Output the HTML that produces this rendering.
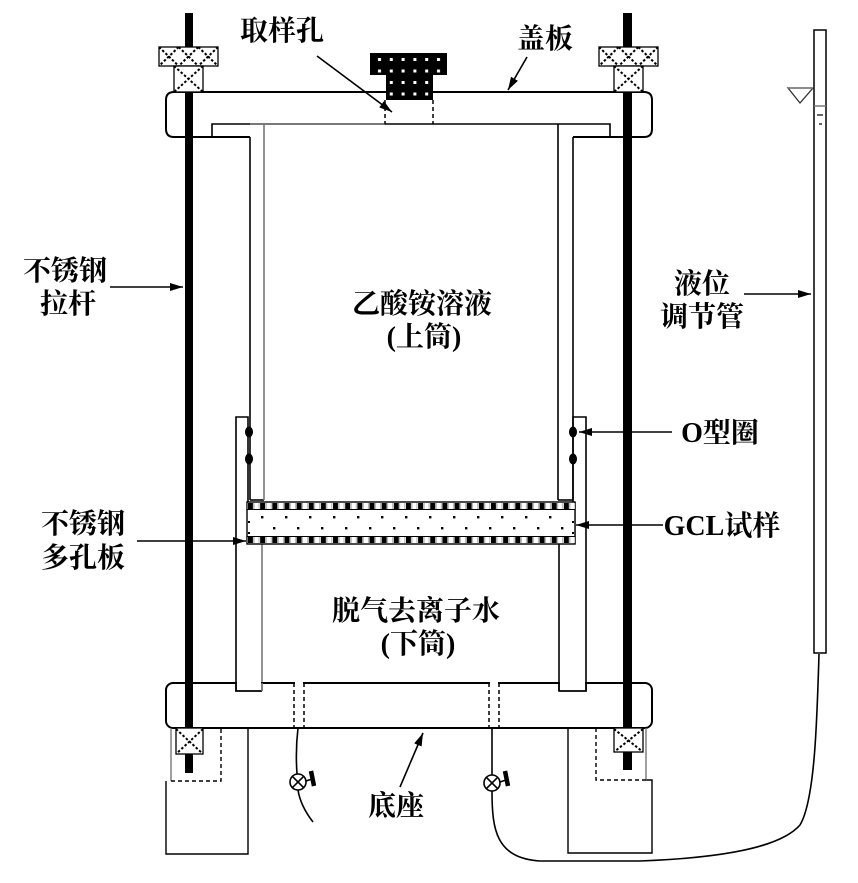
<!DOCTYPE html>
<html><head><meta charset="utf-8"><style>
html,body{margin:0;padding:0;background:#fff;}
svg{display:block;}
text{font-family:"Liberation Serif","Noto Serif CJK SC",serif;font-weight:bold;font-size:28px;fill:#000;}
</style></head><body>
<svg width="858" height="883" viewBox="0 0 858 883" xmlns="http://www.w3.org/2000/svg">
<defs>
<marker id="ah" markerWidth="14" markerHeight="10" refX="13" refY="5" orient="auto" markerUnits="userSpaceOnUse">
<path d="M0,1 L13,5 L0,9 Z" fill="#000"/>
</marker>
<pattern id="cap" x="374" y="54" width="11.8" height="11.5" patternUnits="userSpaceOnUse">
<rect width="11.8" height="11.5" fill="#000"/>
<rect x="4" y="4" width="3" height="3" fill="#fff"/>
</pattern>
<pattern id="strip" x="248" y="0" width="12.15" height="883" patternUnits="userSpaceOnUse">
<rect x="0" y="0" width="5" height="883" fill="#000"/>
<rect x="6" y="0" width="5" height="883" fill="#fff" stroke="#999" stroke-width="0.8"/>
</pattern>
</defs>
<rect width="858" height="883" fill="#fff"/>

<!-- rods -->
<rect x="185" y="13" width="8" height="760" fill="#000"/>
<rect x="623" y="13" width="9" height="757" fill="#000"/>

<!-- cover plate -->
<g fill="none" stroke="#000" stroke-width="2">
<path d="M250,137 H174 Q166,137 166,129 V100 Q166,92 174,92 H644 Q652,92 652,100 V129 Q652,137 644,137 H573"/>
</g>
<g fill="none" stroke="#000" stroke-width="1.6">
<path d="M212,137 V124 H610 V137"/>
<line x1="250" y1="137" x2="250" y2="500"/>
<line x1="573" y1="137" x2="573" y2="500"/>
<line x1="250" y1="500" x2="264" y2="500"/>
<line x1="558" y1="124" x2="558" y2="500"/>
<line x1="558" y1="500" x2="573" y2="500"/>
</g>
<g fill="none" stroke="#777" stroke-width="1.6">
<line x1="264" y1="124" x2="264" y2="500"/>
<line x1="250" y1="124" x2="385" y2="124"/>
</g>
<!-- sample hole -->
<g stroke="#000" stroke-width="1.5" stroke-dasharray="4 3">
<line x1="385" y1="100" x2="385" y2="124"/>
<line x1="433" y1="100" x2="433" y2="124"/>
</g>
<!-- cap -->
<rect x="370" y="53" width="77" height="22" fill="url(#cap)"/>
<rect x="386" y="74" width="47" height="26" fill="url(#cap)"/>

<!-- top nuts -->
<g stroke="#000" stroke-width="1.3" fill="#fff">
<rect x="159" y="47" width="59" height="19"/>
<rect x="174" y="66" width="29" height="26"/>
<rect x="599" y="47" width="59" height="19"/>
<rect x="614" y="66" width="29" height="26"/>
</g>
<g stroke="#000" stroke-width="2" stroke-dasharray="2.5 2">
<path d="M159,47 L178.7,66 M178.7,47 L159,66 M178.7,47 L198.3,66 M198.3,47 L178.7,66 M198.3,47 L218,66 M218,47 L198.3,66"/>
<path d="M174,66 L203,92 M203,66 L174,92"/>
<path d="M599,47 L618.7,66 M618.7,47 L599,66 M618.7,47 L638.3,66 M638.3,47 L618.7,66 M638.3,47 L658,66 M658,47 L638.3,66"/>
<path d="M614,66 L643,92 M643,66 L614,92"/>
</g>

<!-- sleeves / lower cylinder -->
<g fill="none" stroke="#000" stroke-width="1.6">
<path d="M248,502 V417 H236 V691 H262"/>
<path d="M573,502 V417 H586 V691 H559"/>
<line x1="559" y1="544" x2="559" y2="691"/>
</g>
<line x1="262" y1="544" x2="262" y2="691" stroke="#777" stroke-width="1.6"/>
<line x1="575" y1="502" x2="575" y2="544" stroke="#777" stroke-width="1.4"/>

<!-- O rings -->
<g fill="#000">
<ellipse cx="249" cy="432" rx="4" ry="5.5"/>
<ellipse cx="249" cy="459" rx="4" ry="5.5"/>
<ellipse cx="573" cy="432" rx="4" ry="5.5"/>
<ellipse cx="573" cy="459" rx="4" ry="5.5"/>
</g>

<!-- GCL sample -->
<rect x="247" y="502" width="328" height="42" fill="#fff" stroke="#000" stroke-width="1.4"/>
<rect x="247" y="503" width="328" height="6" fill="url(#strip)"/>
<rect x="247" y="537" width="328" height="6" fill="url(#strip)"/>
<line x1="247" y1="509.5" x2="575" y2="509.5" stroke="#000" stroke-width="1"/>
<line x1="247" y1="536.5" x2="575" y2="536.5" stroke="#000" stroke-width="1"/>
<g fill="#000">
<rect x="261" y="516" width="2.4" height="2.4"/><rect x="285" y="516" width="2.4" height="2.4"/><rect x="309" y="516" width="2.4" height="2.4"/><rect x="333" y="516" width="2.4" height="2.4"/><rect x="357" y="516" width="2.4" height="2.4"/><rect x="381" y="516" width="2.4" height="2.4"/><rect x="405" y="516" width="2.4" height="2.4"/><rect x="429" y="516" width="2.4" height="2.4"/><rect x="453" y="516" width="2.4" height="2.4"/><rect x="477" y="516" width="2.4" height="2.4"/><rect x="501" y="516" width="2.4" height="2.4"/><rect x="525" y="516" width="2.4" height="2.4"/><rect x="549" y="516" width="2.4" height="2.4"/>
<rect x="273" y="527" width="2.4" height="2.4"/><rect x="297" y="527" width="2.4" height="2.4"/><rect x="321" y="527" width="2.4" height="2.4"/><rect x="345" y="527" width="2.4" height="2.4"/><rect x="369" y="527" width="2.4" height="2.4"/><rect x="393" y="527" width="2.4" height="2.4"/><rect x="417" y="527" width="2.4" height="2.4"/><rect x="441" y="527" width="2.4" height="2.4"/><rect x="465" y="527" width="2.4" height="2.4"/><rect x="489" y="527" width="2.4" height="2.4"/><rect x="513" y="527" width="2.4" height="2.4"/><rect x="537" y="527" width="2.4" height="2.4"/><rect x="561" y="527" width="2.4" height="2.4"/>
<rect x="248" y="521" width="2" height="2"/><rect x="248" y="532" width="2" height="2"/><rect x="572" y="521" width="2" height="2"/><rect x="572" y="532" width="2" height="2"/>
</g>

<!-- base plate -->
<rect x="166" y="683" width="486" height="45" rx="7" fill="none" stroke="#000" stroke-width="2"/>
<g fill="#fff">
<rect x="237" y="680" width="24" height="10"/>
<rect x="560" y="680" width="25" height="10"/>
<rect x="295" y="680" width="8" height="5"/>
<rect x="490" y="680" width="8" height="5"/>
</g>
<g fill="none" stroke="#000" stroke-width="1.6">
<path d="M236,683 V691 H262"/>
<path d="M586,683 V691 H559 V683"/>
</g>
<line x1="262" y1="683" x2="262" y2="691" stroke="#777" stroke-width="1.6"/>
<g stroke="#000" stroke-width="1.5" stroke-dasharray="4 3">
<line x1="294" y1="683" x2="294" y2="728"/>
<line x1="304" y1="683" x2="304" y2="728"/>
<line x1="489" y1="683" x2="489" y2="728"/>
<line x1="499" y1="683" x2="499" y2="728"/>
</g>

<!-- bottom nuts -->
<g stroke="#000" stroke-width="1.3" fill="#fff">
<rect x="176" y="728" width="27" height="26"/>
<rect x="614" y="728" width="29" height="24"/>
</g>
<g stroke="#000" stroke-width="2" stroke-dasharray="2.5 2">
<path d="M176,729 L203,754 M203,729 L176,754"/>
<path d="M614,729 L643,752 M643,729 L614,752"/>
</g>

<!-- feet -->
<g fill="none" stroke="#000" stroke-width="1.4">
<path d="M166,781 V854 H248 V728"/>
<path d="M568,728 V853 H652 V780 H646"/>
</g>
<g fill="none" stroke="#777" stroke-width="1.4">
<line x1="171" y1="728" x2="171" y2="781"/>
<line x1="646" y1="728" x2="646" y2="780"/>
</g>
<g fill="none" stroke="#000" stroke-width="1.4" stroke-dasharray="4 3">
<path d="M171,781 H221 V728"/>
<path d="M596,728 V780 H646"/>
</g>

<!-- valves and tubes -->
<g fill="none" stroke="#000" stroke-width="1.6">
<path d="M298,728 C296,745 296,760 297,774"/>
<path d="M298,790 C300,803 306,813 313,822"/>
<path d="M492,728 C492,745 492,760 492,775"/>
<path d="M492,791 C492,830 496,858 540,861 L640,861 C720,858 780,848 800,825 C815,800 817,720 819,654"/>
<circle cx="298" cy="782" r="8" fill="#fff"/>
<path d="M292.3,776.3 L303.7,787.7 M303.7,776.3 L292.3,787.7"/>
<circle cx="492" cy="783" r="8" fill="#fff"/>
<path d="M486.3,777.3 L497.7,788.7 M497.7,777.3 L486.3,788.7"/>
<line x1="306" y1="781" x2="312" y2="779"/>
<line x1="500" y1="782" x2="506" y2="780"/>
</g>
<g stroke="#000" stroke-width="4.5">
<line x1="311" y1="771" x2="314" y2="786"/>
<line x1="505" y1="771" x2="508" y2="786"/>
</g>

<!-- level tube -->
<rect x="814" y="30" width="12" height="623" fill="#fff" stroke="#000" stroke-width="1.5"/>
<line x1="814" y1="106" x2="826" y2="106" stroke="#777" stroke-width="1.5"/>
<line x1="817" y1="115" x2="823" y2="115" stroke="#000" stroke-width="1.2"/>
<line x1="819" y1="124" x2="822" y2="124" stroke="#000" stroke-width="1.2"/>
<path d="M788,88 L813,88 L800,103 Z" fill="none" stroke="#333" stroke-width="1.3"/>
<line x1="788" y1="88" x2="813" y2="88" stroke="#777" stroke-width="1.5"/>

<!-- arrows -->
<g stroke="#000" stroke-width="1.6" fill="none" marker-end="url(#ah)">
<line x1="317" y1="56" x2="392" y2="112"/>
<line x1="527" y1="57" x2="508" y2="90"/>
<line x1="110" y1="287" x2="183" y2="287"/>
<line x1="744" y1="294" x2="811" y2="294"/>
<line x1="672" y1="432" x2="579" y2="432"/>
<line x1="663" y1="525" x2="576" y2="525"/>
<line x1="137" y1="541" x2="246" y2="541"/>
<line x1="400" y1="787" x2="423" y2="733"/>
</g>

<!-- labels -->
<g text-anchor="middle">
<text x="282" y="40">取样孔</text>
<text x="545" y="48">盖板</text>
<text x="65" y="280">不锈钢</text>
<text x="68" y="313">拉杆</text>
<text x="422" y="313">乙酸铵溶液</text>
<text x="424" y="346">(上筒)</text>
<text x="702" y="293">液位</text>
<text x="702" y="326">调节管</text>
<text x="720" y="442">O型圈</text>
<text x="722" y="535">GCL试样</text>
<text x="83" y="533">不锈钢</text>
<text x="83" y="567">多孔板</text>
<text x="416" y="620">脱气去离子水</text>
<text x="418" y="653">(下筒)</text>
<text x="396" y="815">底座</text>
</g>
</svg>
</body></html>
